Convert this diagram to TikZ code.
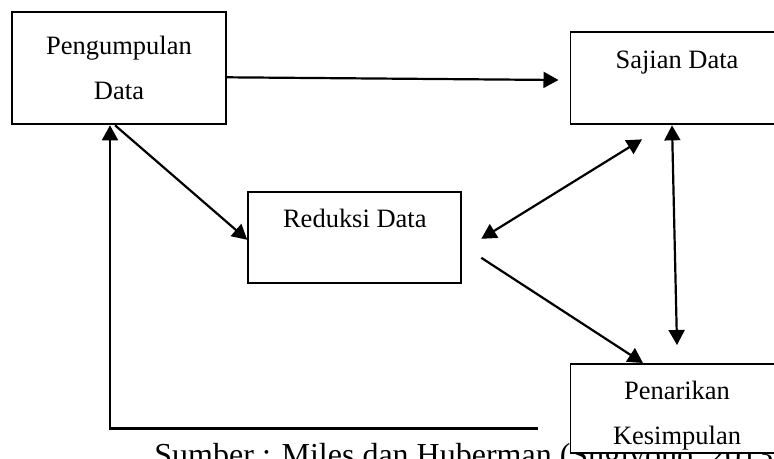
\documentclass[tikz,border=0pt]{standalone}
\usepackage{fontspec}
\setmainfont{Liberation Serif}
\usetikzlibrary{arrows.meta,calc}

\begin{document}
\begin{tikzpicture}[x=0.453pt,y=-0.453pt,
  box/.style={draw,line width=0.9pt,fill=white,minimum width=96.5pt,align=center,inner sep=0pt,font=\fontsize{12}{20.4}\selectfont},
  arr/.style={line width=1pt,-{Triangle[length=6.8pt,width=7.2pt]}},
  darr/.style={line width=1pt,{Triangle[length=6.8pt,width=7.2pt]}-{Triangle[length=6.8pt,width=7.2pt]}}]
\useasboundingbox (0,0) rectangle (774,458);
\clip (0,0) rectangle (774,458);

% keterangan sumber (tertutup kotak)
\node[anchor=base west,inner sep=0pt,font=\fontsize{14.5}{17}\selectfont] (sumber) at (154,465) {Sumber : Miles dan Huberman (Sugiyono, 2013)};

% kotak
\node[box,minimum height=50.7pt] (pengumpulan) at (119,68.3) {Pengumpulan\\Data};
\node[box,minimum height=42pt,text height=8pt,text depth=17pt] (sajian) at (677,78) {Sajian Data};
\node[box,minimum height=41.2pt,text height=8pt,text depth=17pt] (reduksi) at (354.8,237.8) {Reduksi Data};
\node[box,minimum height=40.3pt,text height=33pt,text depth=0pt] (penarikan) at (677,408.5) {Penarikan\\Kesimpulan};

% panah
\draw[arr] ($(pengumpulan.east)+(0,9)$) -- ($(sajian.west)+(-11,2)$);
\draw[arr] ($(pengumpulan.south)+(-4,0)$) -- ($(reduksi.west)+(0,2)$);
\draw[darr] ($(reduksi.east)+(19,1)$) -- ($(sajian.south)+(-35,14)$);
\draw[darr] ($(sajian.south)+(-5,0)$) -- ($(penarikan.north)+(0,-18)$);
\draw[arr] ($(reduksi.east)+(19,20)$) -- ($(penarikan.north)+(-34,0)$);

\coordinate (balik) at ($(penarikan.west)+(-32,20)$);
\draw[arr] (balik) -| ($(pengumpulan.south)+(-9,0)$);
\end{tikzpicture}
\end{document}
